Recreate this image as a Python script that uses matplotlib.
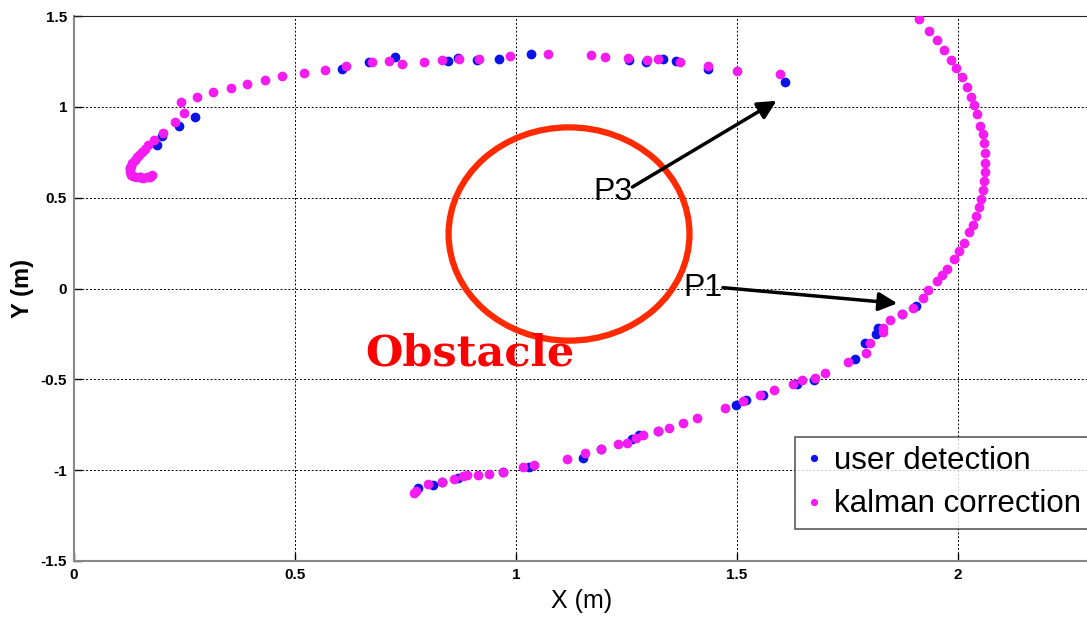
import numpy as np
import matplotlib.pyplot as plt
from matplotlib.patches import Ellipse

# kalman correction (magenta)
kalman_x = [0.769, 0.774, 0.801, 0.833, 0.860, 0.880, 0.889, 0.914, 0.939, 0.971, 1.016, 1.041,
            1.115, 1.156, 1.192, 1.231, 1.251, 1.271, 1.287, 1.321, 1.346, 1.378, 1.410, 1.473,
            1.514, 1.552, 1.584, 1.627, 1.647, 1.676, 1.699, 1.751, 1.792, 1.801, 1.830, 1.830,
            1.846, 1.873, 1.898, 1.921, 1.932, 1.952, 1.964, 1.975, 1.991, 2.002, 2.014, 2.025,
            2.034, 2.041, 2.048, 2.052, 2.057, 2.059, 2.061, 2.061, 2.061, 2.059, 2.057, 2.050,
            2.043, 2.036, 2.029, 2.020, 2.009, 1.995, 1.984, 1.968, 1.952, 1.934, 1.912,
            1.597, 1.500, 1.434, 1.371, 1.321, 1.296, 1.253, 1.201, 1.170, 1.072, 0.986, 0.916,
            0.871, 0.833, 0.792, 0.742, 0.713, 0.674, 0.615, 0.568, 0.520, 0.471, 0.432, 0.391,
            0.355, 0.314, 0.278, 0.242, 0.249, 0.229, 0.201, 0.181, 0.167, 0.154, 0.143, 0.131,
            0.127, 0.127, 0.133, 0.149, 0.165, 0.176, 0.160, 0.148, 0.137, 0.128, 0.130, 0.140,
            0.157, 0.171]
kalman_y = [-1.124, -1.113, -1.074, -1.063, -1.047, -1.030, -1.025, -1.025, -1.019, -1.008, -0.981, -0.970,
            -0.937, -0.904, -0.882, -0.854, -0.848, -0.821, -0.804, -0.782, -0.766, -0.738, -0.711, -0.656,
            -0.617, -0.584, -0.556, -0.523, -0.501, -0.490, -0.463, -0.402, -0.353, -0.298, -0.242, -0.215,
            -0.171, -0.138, -0.105, -0.050, -0.011, 0.039, 0.077, 0.110, 0.160, 0.204, 0.253, 0.309,
            0.347, 0.397, 0.446, 0.490, 0.540, 0.590, 0.639, 0.689, 0.744, 0.799, 0.848, 0.893,
            0.959, 1.008, 1.052, 1.107, 1.163, 1.212, 1.256, 1.311, 1.366, 1.416, 1.482,
            1.179, 1.196, 1.223, 1.245, 1.262, 1.256, 1.267, 1.273, 1.284, 1.289, 1.278, 1.262,
            1.262, 1.256, 1.245, 1.234, 1.251, 1.245, 1.223, 1.201, 1.185, 1.168, 1.146, 1.124,
            1.102, 1.080, 1.052, 1.025, 0.964, 0.915, 0.854, 0.815, 0.788, 0.749, 0.722, 0.689,
            0.660, 0.639, 0.617, 0.612, 0.612, 0.623, 0.770, 0.735, 0.705, 0.675, 0.625, 0.613,
            0.611, 0.616]

# user detection (blue)
user_x = [0.778, 0.812, 0.833, 0.869, 0.971, 1.029, 1.152, 1.192, 1.262, 1.278, 1.321, 1.498,
          1.520, 1.559, 1.636, 1.674, 1.767, 1.790, 1.814, 1.819, 1.905, 1.873,
          1.609, 1.434, 1.362, 1.333, 1.294, 1.256, 1.034, 0.962, 0.912, 0.869, 0.846, 0.726,
          0.667, 0.606, 0.274, 0.238, 0.199, 0.188, 0.127, 0.150]
user_y = [-1.096, -1.080, -1.063, -1.041, -1.008, -0.981, -0.931, -0.882, -0.826, -0.804, -0.782, -0.639,
          -0.612, -0.584, -0.523, -0.501, -0.386, -0.298, -0.253, -0.215, -0.099, -0.138,
          1.135, 1.207, 1.251, 1.262, 1.245, 1.256, 1.289, 1.262, 1.256, 1.267, 1.251, 1.273,
          1.245, 1.207, 0.942, 0.893, 0.837, 0.788, 0.661, 0.615]

xticks = [0, 0.5, 1, 1.5, 2]
yticks = [-1.5, -1, -0.5, 0, 0.5, 1, 1.5]

plt.rcParams['font.family'] = ['Liberation Sans', 'DejaVu Sans']

fig = plt.figure(figsize=(10.87, 6.17), dpi=100)
ax = fig.add_axes([74 / 1087, 56 / 617, 2.5 * 442 / 1087, 545 / 617])

ax.plot(user_x, user_y, '.', color='#0a14e6', markersize=12, label='user detection', zorder=3)
ax.plot(kalman_x, kalman_y, '.', color='#f41cf0', markersize=12, label='kalman correction', zorder=4)

# obstacle
ax.add_patch(Ellipse((1.12, 0.30), 0.545, 1.174, fill=False, ec='#ff2a00', lw=4.5, zorder=5))
ax.text(0.66, -0.422, 'Obstacle', color='#ff0000', fontsize=31, fontweight='bold',
        family='DejaVu Serif', va='baseline', ha='left', zorder=6)

# arrows
ax.annotate('', xy=(1.595, 1.041), xytext=(1.258, 0.551),
            arrowprops=dict(arrowstyle='-|>', lw=2.5, color='k', mutation_scale=28), zorder=6)
ax.text(1.174, 0.53, 'P3', fontsize=23, va='center', ha='left', zorder=6)
ax.annotate('', xy=(1.869, -0.083), xytext=(1.462, 0.006),
            arrowprops=dict(arrowstyle='-|>', lw=2.5, color='k', mutation_scale=28), zorder=6)
ax.text(1.378, 0.0, 'P1', fontsize=23, va='center', ha='left', zorder=6)

ax.set_xlim(0, 2.5)
ax.set_ylim(-1.5, 1.5)
ax.set_xticks(xticks)
ax.set_xticklabels(['0', '0.5', '1', '1.5', '2'])
ax.set_yticks(yticks)
ax.set_yticklabels(['-1.5', '-1', '-0.5', '0', '0.5', '1', '1.5'])
ax.tick_params(direction='in', length=6, width=1, labelsize=11, pad=5)
for lab in ax.get_xticklabels() + ax.get_yticklabels():
    lab.set_fontweight('bold')
ax.grid(True, color='k', linestyle=(0, (2, 2)), linewidth=0.7)

ax.spines['left'].set_color('#888888')
ax.spines['left'].set_linewidth(1.5)
ax.spines['bottom'].set_color('#888888')
ax.spines['bottom'].set_linewidth(1.5)
ax.spines['top'].set_color('#222222')

ax.set_xlabel('X (m)', fontsize=18)
ax.xaxis.set_label_coords((582 - 74) / 1105, -0.052)
ax.set_ylabel('Y (m)', fontsize=17, fontweight='bold')
ax.yaxis.set_label_coords(-0.036, 0.5)

leg = ax.legend(loc='upper left', bbox_to_anchor=(795 / 1087, 1 - 437 / 617),
                bbox_transform=fig.transFigure, fontsize=22.5, frameon=True, fancybox=False,
                borderaxespad=0, handlelength=0.6, handletextpad=0.35, borderpad=0.3,
                labelspacing=0.42, markerscale=0.7)
leg.get_frame().set_edgecolor('#333333')
leg.get_frame().set_linewidth(1.2)

fig.savefig('out.png', dpi=100)
